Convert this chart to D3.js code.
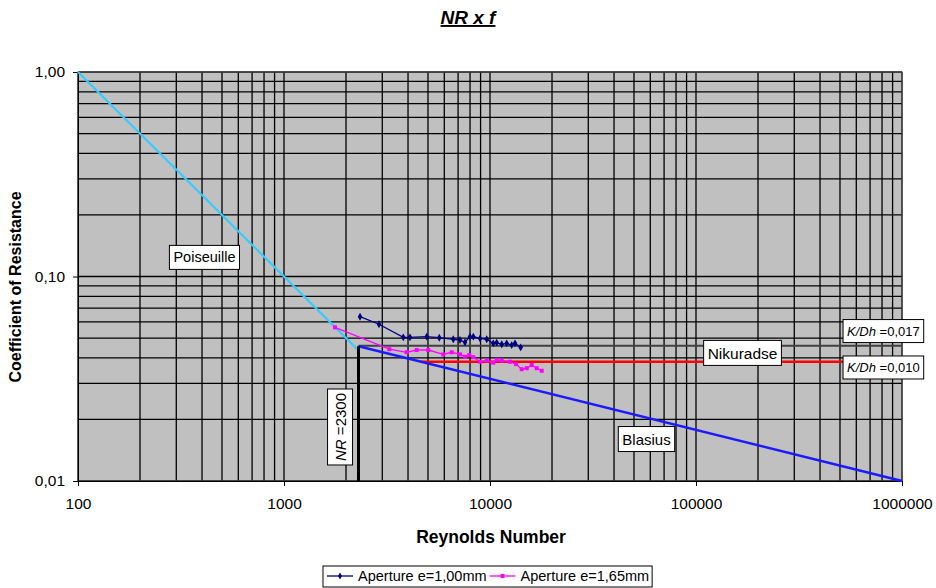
<!DOCTYPE html>
<html lang="en">
<head>
<meta charset="UTF-8">
<title>NR x f</title>
<script src="https://d3js.org/d3.v7.min.js"></script>
<style>
    body { margin: 0; background: #fff; }
    svg { display: block; font-family: "Liberation Sans", Arial, sans-serif; }
</style>
</head>
<body>
<svg id="chart" width="936" height="588"></svg>
<script>
// theory lines (Re, f)
const poiseuilleRe = [100, 2300];
const poiseuilleF = [1.0, 0.0435];
const blasiusRe = [2300, 1000000];
const blasiusF = [0.0456, 0.0100];
const rough017Re = [2300, 1000000];
const rough017F = [0.0458, 0.0458];
const rough010Re = [4600, 1000000];
const rough010F = [0.0383, 0.0383];
const transRe = [2300, 2300];
const transF = [0.0100, 0.0456];

// measured series
const ap100Re = [2339, 2892, 3794, 4089, 4928, 5673, 6633, 7151, 7559, 7995, 8298, 8944, 9639, 10375, 10777, 11398, 12050, 12744, 13226, 14093];
const ap100F = [0.0636, 0.0584, 0.0504, 0.0504, 0.0508, 0.0502, 0.0493, 0.0489, 0.0477, 0.0508, 0.0508, 0.0498, 0.0493, 0.0471, 0.0475, 0.0466, 0.0471, 0.0462, 0.0471, 0.0450];
const ap165Re = [1768, 3245, 3940, 4408, 5017, 5933, 6518, 7151, 7559, 7937, 8298, 8944, 9639, 10375, 10777, 11398, 12506, 13373, 14253, 15074, 15939, 16854, 17824];
const ap165F = [0.0564, 0.0441, 0.0426, 0.0437, 0.0437, 0.0416, 0.0426, 0.0416, 0.0405, 0.0413, 0.0403, 0.0383, 0.0388, 0.0379, 0.0391, 0.0388, 0.0383, 0.0373, 0.0352, 0.0356, 0.0369, 0.0356, 0.0346];

const xTickLabels = ["100", "1000", "10000", "100000", "1000000"];
const yTickLabels = ["0,01", "0,10", "1,00"];
const seriesNames = ["Aperture e=1,00mm", "Aperture e=1,65mm"];

// annotation boxes, placed at (Re, f)
const notes = [
    {re: 411, f: 0.124, size: 14.5, parts: [["Poiseuille", false]]},
    {re: 57500, f: 0.01604, size: 15, parts: [["Blasius", false]]},
    {re: 168200, f: 0.0423, size: 15.5, parts: [["Nikuradse", false]]},
    {re: 812000, f: 0.0541, size: 13, parts: [["K/Dh", true], [" =0,017", false]]},
    {re: 812000, f: 0.0359, size: 13, parts: [["K/Dh", true], [" =0,010", false]]},
    {re: 1871, f: 0.01837, size: 15, parts: [["NR", true], [" =2300", false]], rotate: true}
];

const svg = d3.select("#chart");
const plotLeft = 78, plotRight = 902, plotTop = 72, plotBottom = 481;

const x = d3.scaleLog().domain([100, 1000000]).range([plotLeft, plotRight]);
const y = d3.scaleLog().domain([0.01, 1]).range([plotBottom, plotTop]);

// plot background
svg.append("rect")
    .attr("x", plotLeft).attr("y", plotTop)
    .attr("width", plotRight - plotLeft).attr("height", plotBottom - plotTop)
    .attr("fill", "#c0c0c0");

// grid (1..9 in every decade)
const xGrid = x.ticks();
const yGrid = y.ticks();
svg.append("g").selectAll("line").data(xGrid).join("line")
    .attr("x1", d => x(d)).attr("x2", d => x(d))
    .attr("y1", plotTop).attr("y2", plotBottom)
    .attr("stroke", "#000").attr("stroke-width", 1.3);
svg.append("g").selectAll("line").data(yGrid).join("line")
    .attr("y1", d => y(d)).attr("y2", d => y(d))
    .attr("x1", plotLeft).attr("x2", plotRight)
    .attr("stroke", "#000").attr("stroke-width", 1.3);

svg.append("rect")
    .attr("x", plotLeft).attr("y", plotTop)
    .attr("width", plotRight - plotLeft).attr("height", plotBottom - plotTop)
    .attr("fill", "none").attr("stroke", "#555").attr("stroke-width", 1);

// axes
const xAxis = d3.axisBottom(x)
    .tickValues([100, 1000, 10000, 100000, 1000000])
    .tickFormat((d, i) => xTickLabels[i])
    .tickSize(5).tickPadding(12);
const yAxis = d3.axisLeft(y)
    .tickValues([0.01, 0.1, 1])
    .tickFormat((d, i) => yTickLabels[i])
    .tickSize(5).tickPadding(8);

const gx = svg.append("g").attr("transform", `translate(0,${plotBottom})`).call(xAxis);
const gy = svg.append("g").attr("transform", `translate(${plotLeft},0)`).call(yAxis);
[gx, gy].forEach(g => {
    g.select(".domain").attr("stroke", "#000");
    g.selectAll(".tick line").attr("stroke", "#000");
    g.selectAll("text").attr("font-size", 15.5).attr("fill", "#000")
        .attr("font-family", "Liberation Sans, Arial, sans-serif");
});

const line = d3.line().x(d => x(d[0])).y(d => y(d[1]));
const zip = (a, b) => a.map((v, i) => [v, b[i]]);

function drawLine(res, fs, color, width) {
    svg.append("path")
        .datum(zip(res, fs))
        .attr("d", line)
        .attr("fill", "none")
        .attr("stroke", color)
        .attr("stroke-width", width);
}

drawLine(rough017Re, rough017F, "#404040", 2);
drawLine(rough010Re, rough010F, "#ff0000", 2.5);
drawLine(poiseuilleRe, poiseuilleF, "#33ccff", 2.2);
drawLine(blasiusRe, blasiusF, "#1a1aff", 2.5);
drawLine(transRe, transF, "#000", 3);

// measured series
drawLine(ap100Re, ap100F, "#000080", 1.3);
svg.append("g").selectAll("path").data(zip(ap100Re, ap100F)).join("path")
    .attr("d", d3.symbol(d3.symbolDiamond, 18))
    .attr("transform", d => `translate(${x(d[0])},${y(d[1])})`)
    .attr("fill", "#000080");

drawLine(ap165Re, ap165F, "#ff00ff", 1.3);
svg.append("g").selectAll("rect").data(zip(ap165Re, ap165F)).join("rect")
    .attr("x", d => x(d[0]) - 2).attr("y", d => y(d[1]) - 2)
    .attr("width", 4).attr("height", 4)
    .attr("fill", "#ff00ff");

// annotation boxes
notes.forEach(n => {
    const g = svg.append("g")
        .attr("transform", `translate(${x(n.re)},${y(n.f)})` + (n.rotate ? " rotate(-90)" : ""));
    const rect = g.append("rect").attr("fill", "#fff").attr("stroke", "#000").attr("stroke-width", 1);
    const t = g.append("text")
        .attr("text-anchor", "middle")
        .attr("dominant-baseline", "central")
        .attr("font-size", n.size)
        .attr("fill", "#000");
    n.parts.forEach(p => {
        t.append("tspan").text(p[0]).attr("font-style", p[1] ? "italic" : "normal");
    });
    const bb = t.node().getBBox();
    rect.attr("x", bb.x - 4).attr("y", bb.y - 4)
        .attr("width", bb.width + 8).attr("height", bb.height + 8);
});

// titles
svg.append("text")
    .attr("x", 468).attr("y", 24)
    .attr("text-anchor", "middle")
    .attr("font-size", 19).attr("font-weight", "bold").attr("font-style", "italic")
    .attr("text-decoration", "underline")
    .text("NR x f");

svg.append("text")
    .attr("x", 491).attr("y", 543)
    .attr("text-anchor", "middle")
    .attr("font-size", 17.5).attr("font-weight", "bold")
    .text("Reynolds Number");

svg.append("text")
    .attr("transform", "translate(21,287) rotate(-90)")
    .attr("text-anchor", "middle")
    .attr("font-size", 16).attr("font-weight", "bold")
    .text("Coefficient of Resistance");

// legend
const lg = svg.append("g");
const legendBox = lg.append("rect")
    .attr("x", 323).attr("y", 566).attr("height", 21)
    .attr("fill", "#fff").attr("stroke", "#000");
const legendColors = ["#000080", "#ff00ff"];
let cursor = 327;
seriesNames.forEach((name, i) => {
    const g = lg.append("g").attr("transform", `translate(${cursor},576)`);
    g.append("line").attr("x1", 0).attr("x2", 26).attr("stroke", legendColors[i]).attr("stroke-width", 1.3);
    if (i === 0) {
        g.append("path").attr("d", d3.symbol(d3.symbolDiamond, 14)).attr("transform", "translate(13,0)").attr("fill", legendColors[i]);
    } else {
        g.append("rect").attr("x", 11).attr("y", -2).attr("width", 4).attr("height", 4).attr("fill", legendColors[i]);
    }
    const t = g.append("text").attr("x", 31).attr("y", 5)
        .attr("font-size", 14.5).attr("fill", "#000")
        .text(name);
    cursor += 31 + t.node().getComputedTextLength() + 3;
});
legendBox.attr("width", cursor - 323);
</script>
</body>
</html>
